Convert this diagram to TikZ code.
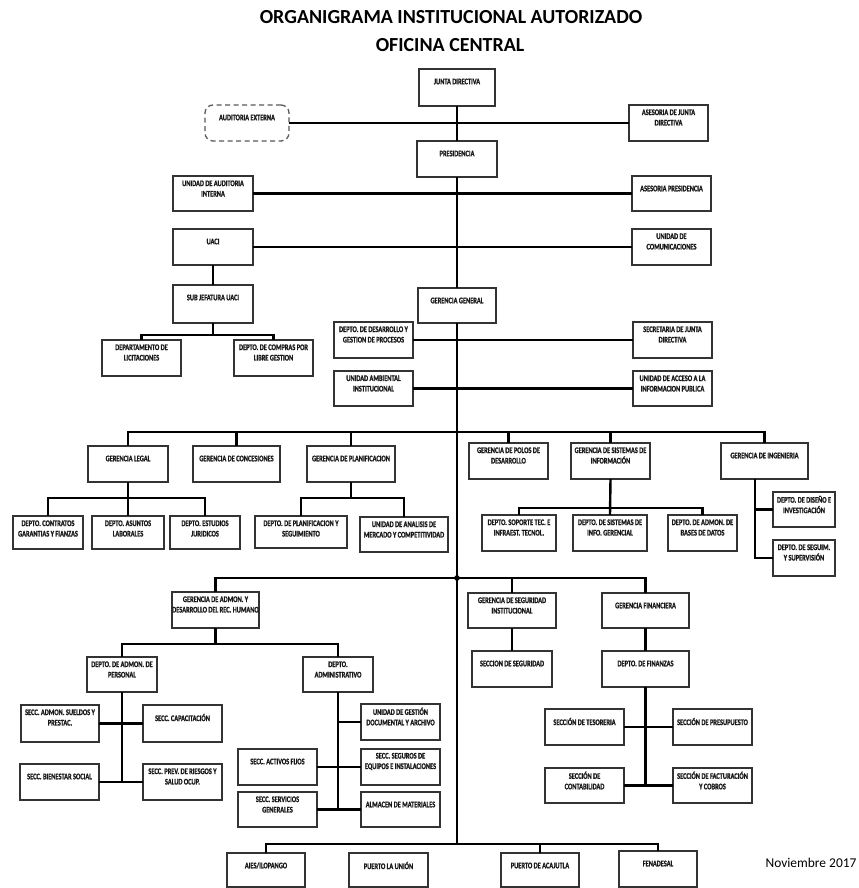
\documentclass[tikz,border=0pt]{standalone}
\usepackage{fontspec}
\setmainfont{Carlito}
\newfontfamily\boxfont[FakeStretch=0.75, FakeBold=1.3]{Carlito}
\tikzset{
  obox/.style={draw=black!80, line width=1.1bp, fill=white, inner sep=0pt, outer sep=0pt},
  otext/.style={font=\boxfont\bfseries\fontsize{8.5}{10.5}\selectfont, align=center, inner sep=0pt, text=black!90},
  conn/.style={line width=2.4bp, black},
  dashbox/.style={draw=black!65, line width=1.3bp, dash pattern=on 5bp off 3.5bp, rounded corners=8bp, fill=white, inner sep=0pt, outer sep=0pt},
}
\newcommand\ob[7][]{%
  \node[obox,#1, minimum width={(#5-#3)*1bp}, minimum height={(#6-#4)*1bp}] (#2) at ({(#3+#5)/2},{(#4+#6)/2}) {};
  \node[otext] (#2-t) at ([yshift=-12.5bp]#2.north) {#7};
}
\begin{document}
\begin{tikzpicture}[x=1bp,y=-1bp]
\useasboundingbox (0,0) rectangle (859,888);
\fill[white] (0,0) rectangle (859,888);
% title
\node[font=\bfseries\fontsize{20}{23}\selectfont] (title1) at (451,17) {ORGANIGRAMA INSTITUCIONAL AUTORIZADO};
\node[font=\bfseries\fontsize{20}{23}\selectfont] (title2) at (450,45) {OFICINA CENTRAL};
\node[font=\fontsize{13.5}{16}\selectfont] (fecha) at (811,863) {Noviembre 2017};

% top level
\ob{junta}{419}{69}{495}{106}{JUNTA DIRECTIVA}
\ob[dashbox]{audext}{205}{105}{289}{141}{AUDITORIA EXTERNA}
\ob{asjd}{629}{105}{708}{141}{ASESORIA DE JUNTA\\DIRECTIVA}
\ob{pres}{417}{141}{497}{177}{PRESIDENCIA}
\ob{uai}{173}{176}{253}{211}{UNIDAD DE AUDITORIA\\INTERNA}
\ob{aspres}{632}{176}{711}{211}{ASESORIA PRESIDENCIA}
\ob{uaci}{173}{229}{253}{265}{UACI}
\ob{comu}{632}{229}{711}{265}{UNIDAD DE\\COMUNICACIONES}
\ob{subuaci}{173}{285}{253}{323}{SUB JEFATURA UACI}
\ob{lic}{102}{340}{181}{376}{DEPARTAMENTO DE\\LICITACIONES}
\ob{compras}{234}{340}{313}{376}{DEPTO. DE COMPRAS POR\\LIBRE GESTION}
\ob{gg}{418}{288}{496}{323}{GERENCIA GENERAL}
\ob{desa}{334}{322}{413}{358}{DEPTO. DE DESARROLLO Y\\GESTION DE PROCESOS}
\ob{secjd}{633}{322}{712}{358}{SECRETARIA DE JUNTA\\DIRECTIVA}
\ob{amb}{334}{371}{413}{406}{UNIDAD AMBIENTAL\\INSTITUCIONAL}
\ob{acceso}{633}{371}{712}{406}{UNIDAD DE ACCESO A LA\\INFORMACION PUBLICA}

% gerencias row
\ob{glegal}{88}{446}{168}{482}{GERENCIA LEGAL}
\ob{gconc}{193}{446}{280}{482}{GERENCIA DE CONCESIONES}
\ob{gplan}{307}{446}{395}{482}{GERENCIA DE PLANIFICACION}
\ob{gpolos}{469}{443}{548}{479}{GERENCIA DE POLOS DE\\DESARROLLO}
\ob{gsis}{571}{443}{650}{479}{GERENCIA DE SISTEMAS DE\\INFORMACIÓN}
\ob{ging}{721}{443}{808}{479}{GERENCIA DE INGENIERIA}
\ob{ca}{13}{516}{83}{549}{DEPTO. CONTRATOS\\GARANTIAS Y FIANZAS}
\ob{cb}{92}{516}{164}{549}{DEPTO. ASUNTOS\\LABORALES}
\ob{cc}{170}{516}{240}{549}{DEPTO. ESTUDIOS\\JURIDICOS}
\ob{pa}{255}{516}{347}{548}{DEPTO. DE PLANIFICACION Y\\SEGUIMIENTO}
\ob{pb}{360}{517}{448}{552}{UNIDAD DE ANALISIS DE\\MERCADO Y COMPETITIVIDAD}
\ob{sa}{482}{515}{556}{551}{DEPTO. SOPORTE TEC. E\\INFRAEST. TECNOL.}
\ob{sb}{573}{515}{647}{551}{DEPTO. DE SISTEMAS DE\\INFO. GERENCIAL}
\ob{sc}{668}{515}{737}{551}{DEPTO. DE ADMON. DE\\BASES DE DATOS}
\ob{dis}{773}{492}{835}{527}{DEPTO. DE DISEÑO E\\INVESTIGACIÓN}
\ob{seg}{773}{540}{835}{576}{DEPTO. DE SEGUIM.\\Y SUPERVISIÓN}

% second row
\ob{gadmon}{172}{592}{259}{628}{GERENCIA DE ADMON. Y\\DESARROLLO DEL REC. HUMANO}
\ob{gseg}{468}{593}{556}{628}{GERENCIA DE SEGURIDAD\\INSTITUCIONAL}
\ob{gfin}{602}{593}{689}{628}{GERENCIA FINANCIERA}
\ob{secseg}{472}{651}{552}{687}{SECCION DE SEGURIDAD}
\ob{finanzas}{602}{651}{689}{687}{DEPTO. DE FINANZAS}
\ob{tes}{545}{709}{624}{745}{SECCIÓN DE TESORERIA}
\ob{presu}{673}{709}{752}{745}{SECCIÓN DE PRESUPUESTO}
\ob{cont}{545}{768}{624}{803}{SECCIÓN DE\\CONTABILIDAD}
\ob{fact}{673}{768}{752}{803}{SECCIÓN DE FACTURACIÓN\\Y COBROS}
\ob{dper}{87}{657}{157}{692}{DEPTO. DE ADMON. DE\\PERSONAL}
\ob{dadm}{303}{657}{373}{692}{DEPTO.\\ADMINISTRATIVO}
\ob{sueldos}{21}{705}{99}{742}{SECC. ADMON. SUELDOS Y\\PRESTAC.}
\ob{capac}{143}{705}{222}{742}{SECC. CAPACITACIÓN}
\ob{bienestar}{20}{764}{99}{800}{SECC. BIENESTAR SOCIAL}
\ob{prev}{143}{764}{222}{800}{SECC. PREV. DE RIESGOS Y\\SALUD OCUP.}
\ob{gestdoc}{361}{704}{440}{740}{UNIDAD DE GESTIÓN\\DOCUMENTAL Y ARCHIVO}
\ob{activos}{238}{749}{317}{785}{SECC. ACTIVOS FIJOS}
\ob{seguros}{361}{749}{440}{785}{SECC. SEGUROS DE\\EQUIPOS E INSTALACIONES}
\ob{servicios}{238}{792}{317}{827}{SECC. SERVICIOS\\GENERALES}
\ob{almacen}{361}{792}{440}{827}{ALMACEN DE MATERIALES}

% bottom row
\ob{aies}{227}{853}{305}{887}{AIES/ILOPANGO}
\ob{union}{349}{853}{428}{887}{PUERTO LA UNIÓN}
\ob{acajutla}{501}{853}{579}{887}{PUERTO DE ACAJUTLA}
\ob{fena}{619}{851}{697}{887}{FENADESAL}

% coordinates
\coordinate (ubar) at (213,335);
\coordinate (gbar) at (457,432);
\coordinate (lbar) at (128,498);
\coordinate (pbar) at (351,498);
\coordinate (sbar) at (610.5,508);
\coordinate (ingtop) at (755,479);
\coordinate (mbar) at (457,578);
\coordinate (abar) at (215.5,644);
\coordinate (bbar) at (457,844);

% connectors
\draw[conn] (junta.south) -- (pres.north);
\draw[conn] (pres.south) -- (gg.north);
\draw[conn] (gg.south) -- (bbar);
\draw[conn] (audext.east) -- (asjd.west);
\draw[conn] (uai.east) -- (aspres.west);
\draw[conn] (uaci.east) -- (comu.west);
\draw[conn] (uaci.south) -- (subuaci.north);
\draw[conn] (subuaci.south) -- (ubar);
\draw[conn] (lic.north) |- (ubar) -| (compras.north);
\draw[conn] (desa.east) -- (secjd.west);
\draw[conn] (amb.east) -- (acceso.west);

\draw[conn] (glegal.north) |- (gbar) -| (ging.north);
\draw[conn] (gconc.north) -- (gconc.north |- gbar);
\draw[conn] (gplan.north) -- (gplan.north |- gbar);
\draw[conn] (gpolos.north) -- (gpolos.north |- gbar);
\draw[conn] (gsis.north) -- (gsis.north |- gbar);

\draw[conn] (glegal.south) -- (cb.north);
\draw[conn] (ca.north) |- (lbar) -| (cc.north);
\draw[conn] (gplan.south) -- (pbar);
\draw[conn] (pa.north) |- (pbar) -| (pb.north);
\draw[conn] (gsis.south) -- (sb.north);
\draw[conn] (sa.north) |- (sbar) -| (sc.north);
\draw[conn] (ingtop) |- (seg.west);
\draw[conn] (ingtop |- dis.west) -- (dis.west);

\draw[conn] (gadmon.north) |- (mbar) -| (gfin.north);
\draw[conn] (gseg.north) -- (gseg.north |- mbar);
\fill (mbar) circle (2.8bp);
\draw[conn] (gseg.south) -- (secseg.north);
\draw[conn] (gfin.south) -- (finanzas.north);
\draw[conn] (finanzas.south) -- (finanzas.south |- cont.east);
\draw[conn] (tes.east) -- (presu.west);
\draw[conn] (cont.east) -- (fact.west);

\draw[conn] (gadmon.south) -- (abar);
\draw[conn] (dper.north) |- (abar) -| (dadm.north);
\draw[conn] (dper.south) -- (dper.south |- bienestar.east);
\draw[conn] (sueldos.east) -- (capac.west);
\draw[conn] (bienestar.east) -- (prev.west);
\draw[conn] (dadm.south) -- (dadm.south |- servicios.east);
\draw[conn] (gestdoc.west -| dadm.south) -- (gestdoc.west);
\draw[conn] (activos.east) -- (seguros.west);
\draw[conn] (servicios.east) -- (almacen.west);

\draw[conn] (aies.north) |- (bbar) -| (fena.north);
\draw[conn] (acajutla.north) -- (acajutla.north |- bbar);
\end{tikzpicture}
\end{document}
